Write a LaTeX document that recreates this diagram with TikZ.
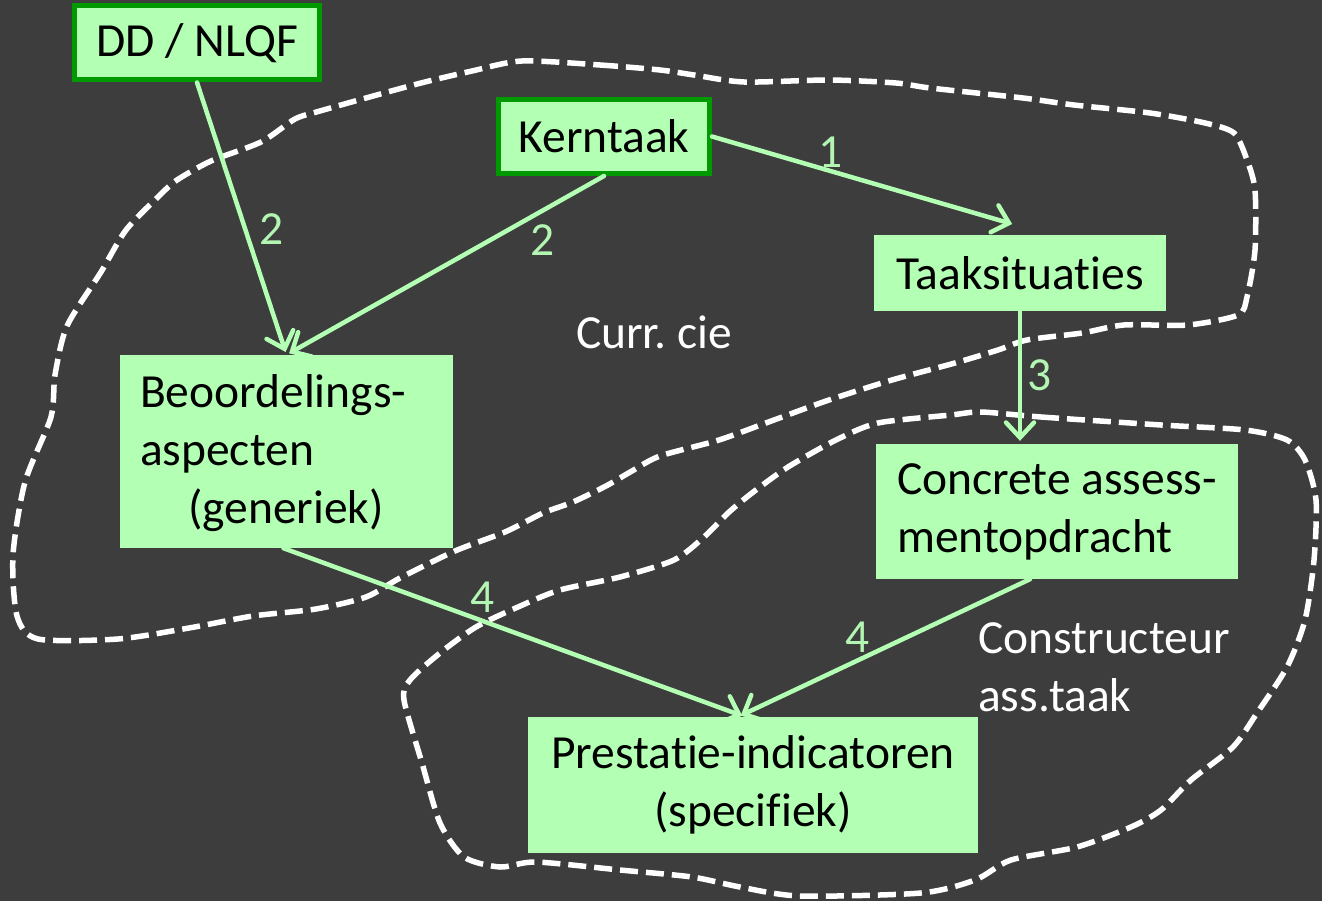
\documentclass[tikz,border=0pt]{standalone}
\usepackage{fontspec}
\setmainfont{Carlito}[Ligatures={NoCommon}]
\usetikzlibrary{arrows.meta,calc}
\definecolor{bg}{HTML}{3D3D3D}
\definecolor{boxgreen}{HTML}{B3FFB3}
\definecolor{bordergreen}{HTML}{009A00}
\definecolor{arrowgreen}{HTML}{B3FFB3}
\definecolor{labelgreen}{HTML}{B3F5B3}
\frenchspacing
\begin{document}
\begin{tikzpicture}[x=1pt,y=-1pt,
  every node/.style={font=\fontsize{47.5}{58}\selectfont\frenchspacing},
  box/.style={fill=boxgreen, draw=none, text=black, inner sep=0pt},
  kbox/.style={box, draw=bordergreen, line width=5pt},
  arr/.style={draw=arrowgreen, line width=4.5pt, line cap=round,
    -{Straight Barb[length=15pt,width=28pt,line cap=round]}, shorten >=3pt},
  lbl/.style={text=labelgreen, inner sep=0pt},
  note/.style={text=white, inner sep=0pt},
  blob/.style={draw=white, line width=5.5pt, dash pattern=on 18pt off 8pt}]
\fill[bg] (0,0) rectangle (1322,901);
\useasboundingbox (0,0) rectangle (1322,901);

% dashed regions
\draw[blob] plot[smooth cycle, tension=0.45] coordinates {
(522,61) (600,65) (660,70) (694,75) (744,82) (829,80) (896,83) (930,88)
(1023,98) (1074,105) (1150,113) (1205,123) (1234,133) (1247,160) (1255,190)
(1255,250) (1247,297) (1238,315) (1188,325) (1124,325) (1082,333) (1027,340)
(998,350) (955,363) (892,380) (829,400) (774,420) (719,440) (660,456)
(632,471) (606,486) (573,502) (543,513) (505,532) (455,551) (400,578)
(366,597) (316,609) (253,616) (189,628) (118,639) (38,639) (17,616)
(13,555) (25,482) (51,417) (55,375) (67,326) (101,272) (126,230) (160,195)
(177,180) (211,161) (261,142) (295,119) (320,111) (366,98) (421,83) (472,71)};
\draw[blob] plot[smooth cycle, tension=0.45] coordinates {
(981,412) (1041,417) (1161,425) (1245,430) (1287,440) (1305,460) (1316,500)
(1314,560) (1305,620) (1287,667) (1257,713) (1233,747) (1191,780) (1161,810)
(1131,827) (1077,847) (1011,860) (975,880) (921,893) (800,896) (740,887)
(692,877) (620,870) (536,862) (500,867) (464,857) (440,823) (422,763)
(404,700) (410,680) (440,653) (476,627) (518,607) (560,590) (620,577)
(674,560) (704,537) (728,513) (752,493) (788,467) (836,440) (878,423) (951,415)};

% boxes
\node[kbox, minimum width=245, minimum height=74] (dd) at (197,43) {DD / NLQF};
\node[kbox, minimum width=211, minimum height=74] (kern) at (604,136.5) {Kerntaak};
\node[box, minimum width=292, minimum height=76] (taak) at (1020,273) {Taaksituaties};
\node[box, minimum height=193, text width=293pt, inner xsep=20pt, align=left] (beo) at (286.5,451.5)
  {\rule{0pt}{36pt}Beoordelings-\\aspecten\\\hspace*{48pt}(generiek)};
\node[box, minimum width=362, minimum height=135, align=left] (conc) at (1057,511.5)
  {Concrete assess-\\mentopdracht};
\node[box, minimum width=450, minimum height=136, align=center] (pres) at (753,785)
  {Prestatie-indicatoren\\(specifiek)};

% connectors
\draw[arr] (dd.south) -- (beo.north);
\draw[arr] (kern.south) -- (beo.north);
\draw[arr] (kern.east) -- ([shift={(-5,-10)}]taak.north);
\draw[arr] (taak.south) -- (taak.south |- conc.north);
\draw[arr] ([xshift=-3pt]beo.south) -- ([xshift=-8pt]pres.north);
\draw[arr] ([xshift=-27pt]conc.south) -- ([xshift=-15pt]pres.north);

% labels
\node[lbl] (l1) at (831,152) {1};
\node[lbl] (l2a) at (272,229) {2};
\node[lbl] (l2b) at (543,240) {2};
\node[lbl] (l3) at (1040,375) {3};
\node[lbl] (l4a) at (483,597) {4};
\node[lbl] (l4b) at (858,637) {4};
\node[note] (curr) at (654,332) {Curr. cie};
\node[note, anchor=north west, align=left] (cons) at (978,622) {Constructeur\\ass.taak};
\end{tikzpicture}
\end{document}
